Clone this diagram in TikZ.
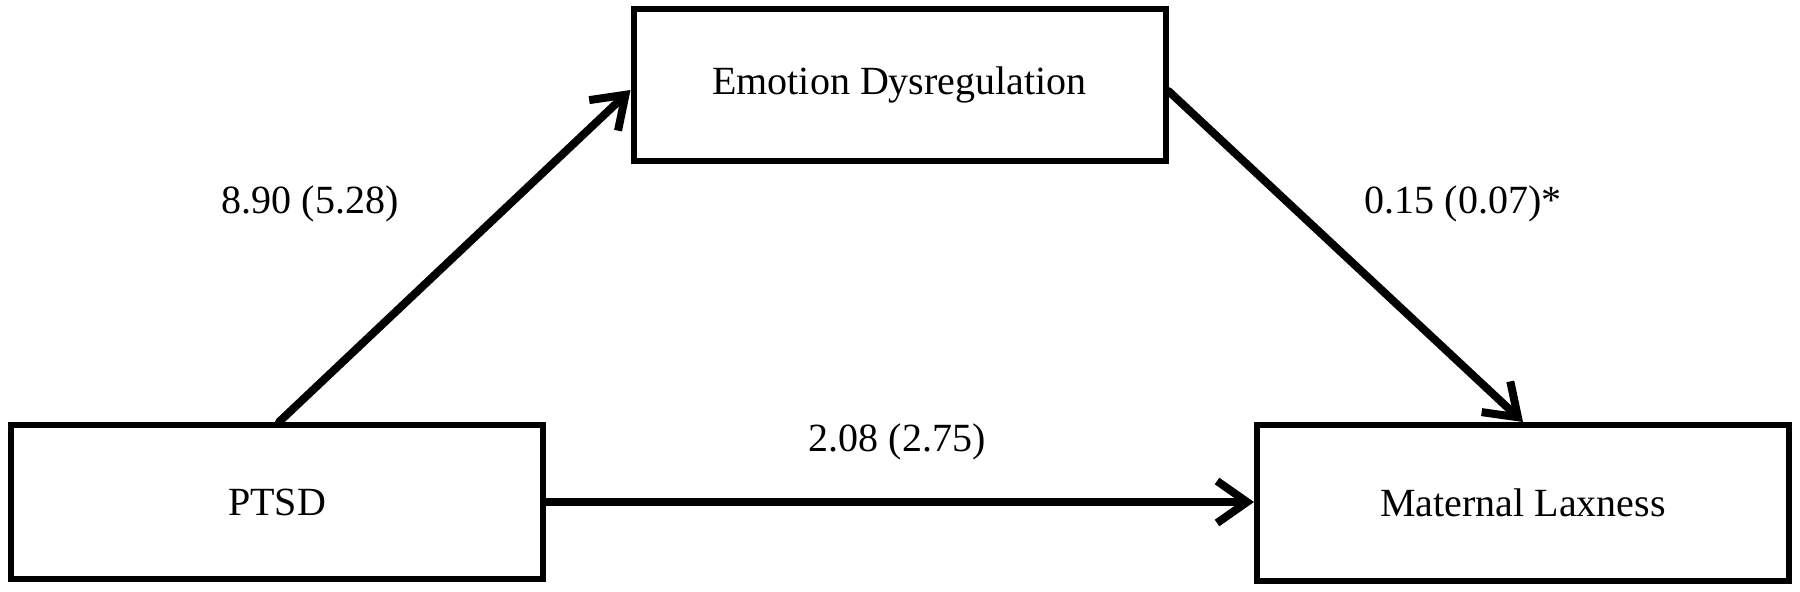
\documentclass[tikz,border=0pt]{standalone}
\usepackage{fontspec}
\setmainfont{Liberation Serif}
\usetikzlibrary{arrows.meta,shadows}
\begin{document}
\begin{tikzpicture}[x=0.25pt,y=-0.25pt,
  varbox/.style={draw=black,line width=1.5pt,fill=white,rectangle,
    minimum width=133pt,minimum height=38.5pt,inner sep=0pt,
    font=\fontsize{10}{12}\selectfont,
    drop shadow={shadow xshift=0.6pt,shadow yshift=-0.6pt,opacity=0.25,fill=black}},
  path/.style={line width=2pt,line cap=round,-{Straight Barb[length=7.5pt,width=10.5pt]}},
  coef/.style={font=\fontsize{10}{12}\selectfont,inner sep=0pt}]
\useasboundingbox (0,0) rectangle (1800,591);
\node[varbox,minimum height=38pt] (ED) at (899.5,85) {Emotion Dysregulation};
\node[varbox] (PT) at (277,502) {PTSD};
\node[varbox,minimum height=39pt] (ML) at (1523,503) {Maternal Laxness};
\draw[path] ([xshift=0.5pt]PT.north) -- ([yshift=-1.25pt]ED.west);
\draw[path] ([yshift=-1.5pt]ED.east) -- (ML.north);
\draw[path] (PT.east) -- (PT.east -| ML.west);
\node[coef] (a) at (310,204) {8.90 (5.28)};
\node[coef] (b) at (1463,204) {0.15 (0.07)*};
\node[coef] (c) at (897,442) {2.08 (2.75)};
\end{tikzpicture}
\end{document}
